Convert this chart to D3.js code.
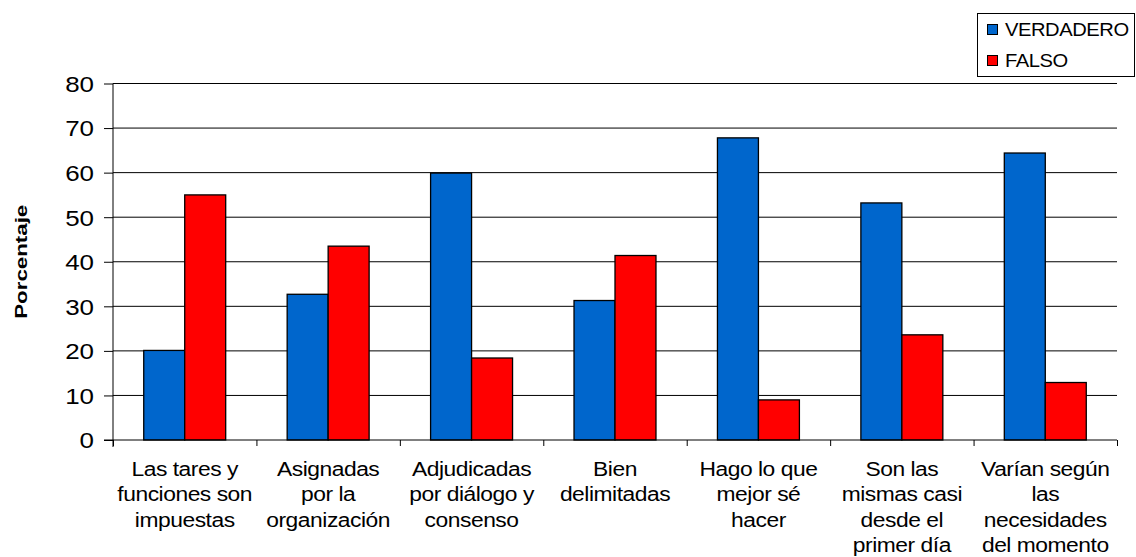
<!DOCTYPE html>
<html>
<head>
<meta charset="utf-8">
<script src="https://cdn.jsdelivr.net/npm/d3@7"></script>
<style>
  html, body { margin: 0; padding: 0; background: #fff; }
  svg { display: block; font-family: "Liberation Sans", Arial, sans-serif; }
</style>
</head>
<body>
<svg id="chart" width="1136" height="557"></svg>
<script>
// Categories (label lines) and series values, in percent
const categories = [
  ["Las tares y", "funciones son", "impuestas"],
  ["Asignadas", "por la", "organización"],
  ["Adjudicadas", "por diálogo y", "consenso"],
  ["Bien", "delimitadas"],
  ["Hago lo que", "mejor sé", "hacer"],
  ["Son las", "mismas casi", "desde el", "primer día"],
  ["Varían según", "las", "necesidades", "del momento"]
];
const seriesNames = ["VERDADERO", "FALSO"];
const verdadero = [20.1, 32.7, 59.9, 31.3, 67.8, 53.2, 64.4];
const falso = [55.0, 43.5, 18.4, 41.4, 9.0, 23.6, 12.9];
const yTicks = [0, 10, 20, 30, 40, 50, 60, 70, 80];
const yTitle = "Porcentaje";
const colors = ["#0066CC", "#FF0000"];

const svg = d3.select("#chart");
const plotLeft = 113, plotRight = 1117, plotTop = 83.5, plotBottom = 440;
const stretch = 1.17; // horizontal widening of the lettering

const catIds = categories.map((c, i) => i);
const x0 = d3.scaleBand().domain(catIds).range([plotLeft, plotRight])
  .paddingInner(1.5 / 3.5).paddingOuter(0.75 / 3.5);
const x1 = d3.scaleBand().domain(seriesNames).range([0, x0.bandwidth()]);
const y = d3.scaleLinear().domain([0, 80]).range([plotBottom, plotTop]);
const edges = d3.scaleLinear().domain([0, categories.length]).range([plotLeft, plotRight]);

// Horizontal gridlines
svg.append("g").selectAll("line").data(yTicks.filter(d => d > 0)).join("line")
  .attr("x1", plotLeft).attr("x2", plotRight)
  .attr("y1", d => y(d)).attr("y2", d => y(d))
  .attr("stroke", "#000").attr("stroke-width", 1);

// Bars
const rows = catIds.map(i => [verdadero[i], falso[i]]);
const groups = svg.append("g").selectAll("g").data(rows).join("g")
  .attr("transform", (d, i) => `translate(${x0(i)},0)`);
groups.selectAll("rect").data(d => d.map((v, k) => ({ v, k }))).join("rect")
  .attr("x", d => x1(seriesNames[d.k]))
  .attr("y", d => y(d.v))
  .attr("width", x1.bandwidth())
  .attr("height", d => y(0) - y(d.v))
  .attr("fill", d => colors[d.k])
  .attr("stroke", "#000").attr("stroke-width", 1.3);

// Y axis
const yAxis = svg.append("g").attr("transform", `translate(${plotLeft},0)`)
  .call(d3.axisLeft(y).tickValues(yTicks).tickSize(9).tickPadding(0).tickSizeOuter(0));
yAxis.select(".domain").attr("stroke", "#000").attr("d", `M0,${plotTop}V${plotBottom + 7}`);
yAxis.selectAll(".tick line").attr("stroke", "#000");
yAxis.selectAll(".tick text")
  .attr("x", -19 / 1.18).attr("dy", "0.36em")
  .attr("transform", "scale(1.18,1)")
  .attr("font-size", 22).attr("fill", "#000")
  .style("font-family", '"Liberation Sans", Arial, sans-serif');

// X axis (ticks between categories)
const xAxis = svg.append("g").attr("transform", `translate(0,${plotBottom})`)
  .call(d3.axisBottom(edges).tickValues(d3.range(categories.length + 1))
    .tickFormat("").tickSize(6).tickSizeOuter(0));
xAxis.select(".domain").attr("stroke", "#000").attr("d", `M${plotLeft - 9},0H${plotRight}`);
xAxis.selectAll(".tick line").attr("stroke", "#000");

// Category labels
const labelFont = 19.5, lineGap = 25.4, firstBase = 476;
const labels = svg.append("g");
categories.forEach((lines, i) => {
  const cx = x0(i) + x0.bandwidth() / 2;
  lines.forEach((t, j) => {
    labels.append("text")
      .attr("transform", `translate(${cx},${firstBase + j * lineGap}) scale(${stretch},1)`)
      .attr("text-anchor", "middle")
      .attr("font-size", labelFont)
      .attr("letter-spacing", -0.4)
      .attr("fill", "#000")
      .text(t);
  });
});

// Y axis title
svg.append("text")
  .attr("transform", `translate(27,${(plotTop + plotBottom) / 2}) rotate(-90)`)
  .attr("text-anchor", "middle")
  .attr("font-size", 17).attr("font-weight", "bold")
  .attr("textLength", 114).attr("lengthAdjust", "spacingAndGlyphs")
  .attr("fill", "#000")
  .text(yTitle);

// Legend
const legend = svg.append("g");
legend.append("rect").attr("x", 977.5).attr("y", 13.5).attr("width", 157).attr("height", 63)
  .attr("fill", "#fff").attr("stroke", "#000").attr("stroke-width", 1);
seriesNames.forEach((name, k) => {
  const yy = 30 + k * 31;
  legend.append("rect").attr("x", 987.5).attr("y", yy - 5.5).attr("width", 10).attr("height", 10)
    .attr("fill", colors[k]).attr("stroke", "#000").attr("stroke-width", 1);
  legend.append("text")
    .attr("transform", `translate(1005,${yy + 6}) scale(1.12,1)`)
    .attr("font-size", 18).attr("letter-spacing", -0.4).attr("fill", "#000")
    .text(name);
});
</script>
</body>
</html>
